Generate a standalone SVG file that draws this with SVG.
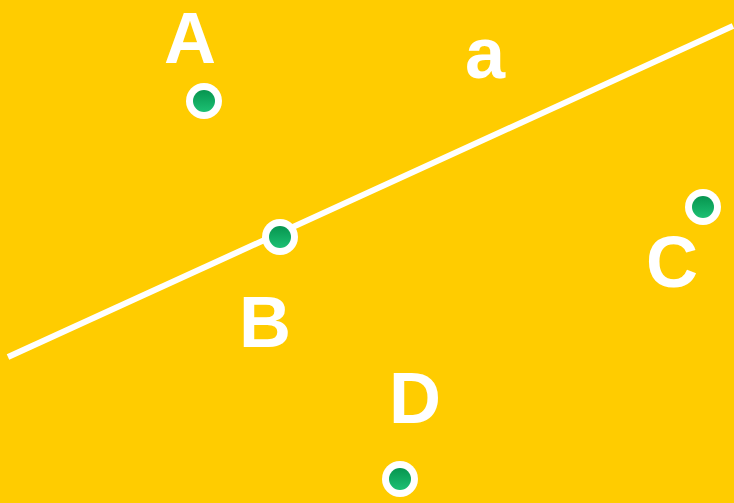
<svg xmlns="http://www.w3.org/2000/svg" width="734" height="503" viewBox="0 0 734 503">
<defs>
<linearGradient id="g" x1="0" y1="0" x2="0" y2="1">
<stop offset="0" stop-color="#07954f"/>
<stop offset="1" stop-color="#1cc073"/>
</linearGradient>
</defs>
<style>
.pt{fill:#fff}
.in{fill:url(#g)}
.lb{font-family:"Liberation Sans",Arial,sans-serif;font-weight:bold;font-size:72px;fill:#fff;text-anchor:middle}
</style>
<rect width="734" height="503" fill="#ffcc00"/>
<g id="connectors">
<line x1="8" y1="357" x2="733" y2="26" stroke="#fff" stroke-width="6"/>
</g>
<g id="A"><circle class="pt" cx="204" cy="101" r="18"/><circle class="in" cx="204" cy="101" r="11"/><text class="lb" x="190" y="63">A</text></g>
<g id="a"><text class="lb" x="485" y="78">a</text></g>
<g id="B"><circle class="pt" cx="280" cy="237" r="18"/><circle class="in" cx="280" cy="237" r="11"/><text class="lb" x="265" y="347">B</text></g>
<g id="C"><circle class="pt" cx="703" cy="207" r="18"/><circle class="in" cx="703" cy="207" r="11"/><text class="lb" x="672" y="287">C</text></g>
<g id="D"><circle class="pt" cx="400" cy="479" r="18"/><circle class="in" cx="400" cy="479" r="11"/><text class="lb" x="415" y="423">D</text></g>
</svg>
